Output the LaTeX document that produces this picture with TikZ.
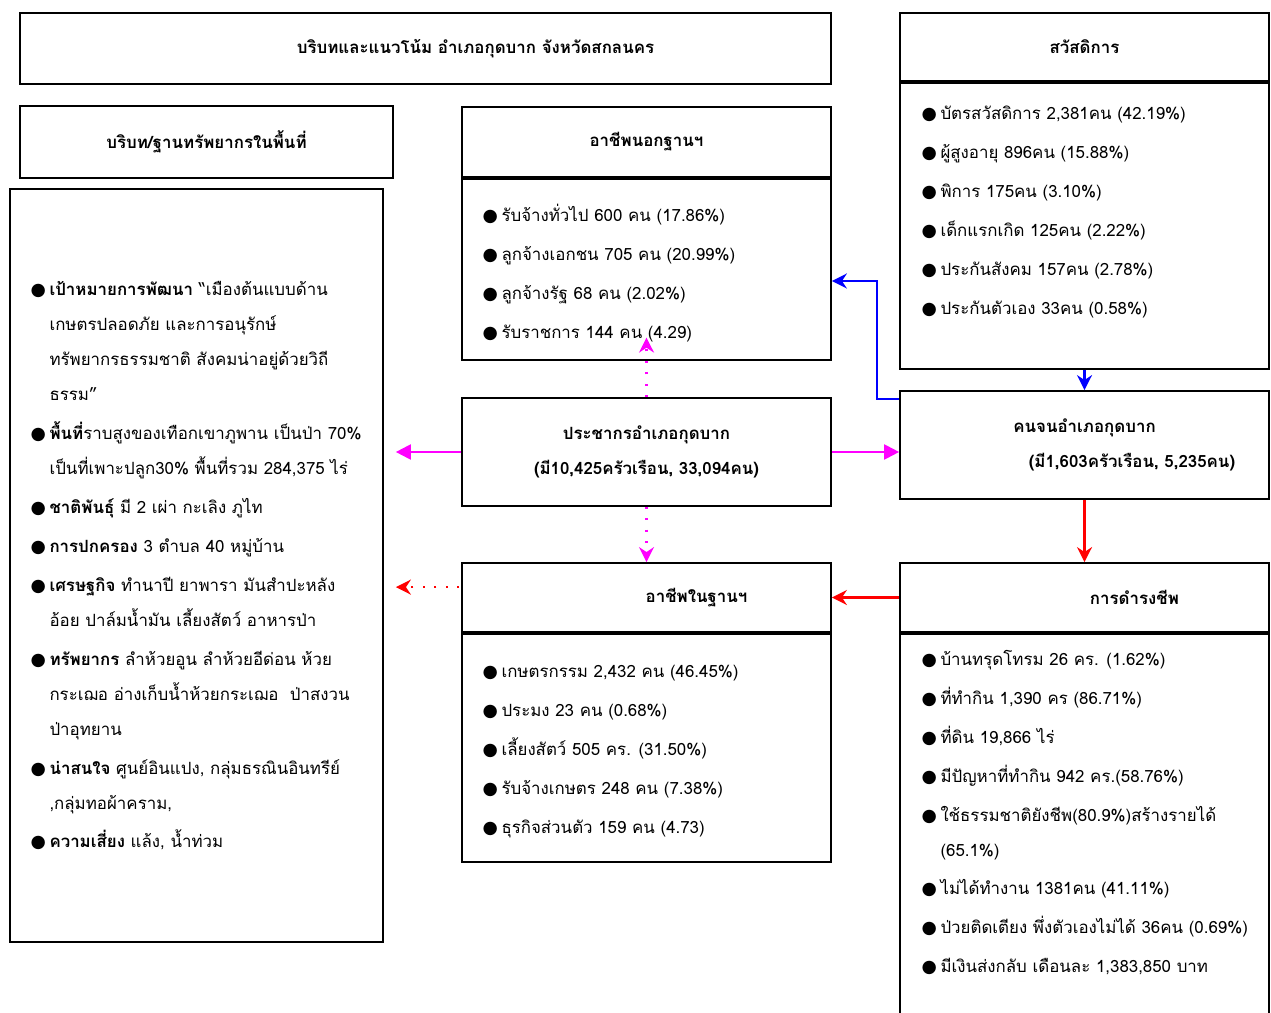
\documentclass[tikz,border=0pt]{standalone}
\usepackage{fontspec}
\setmainfont[Script=Thai]{Loma}
\newfontfamily\symfont{DejaVu Sans}
\usetikzlibrary{arrows.meta}
\definecolor{magline}{RGB}{255,0,255}
\definecolor{blueline}{RGB}{0,0,255}
\definecolor{redline}{RGB}{255,0,0}
\newcommand\bul{\strut\makebox[0.38cm][l]{\symfont\fontsize{10pt}{10pt}\selectfont ●}}
\newcommand\ind{\strut\hspace*{0.38cm}}
\begin{document}
\begin{tikzpicture}[x=0.02cm,y=-0.02cm,
  font=\fontsize{9.6pt}{19.9pt}\selectfont,
  box/.style={draw,line width=1pt,minimum width=7.38cm},
  headbox/.style={box,font=\fontsize{9.6pt}{19.9pt}\selectfont\bfseries},
  list/.style={anchor=north west,align=left,inner sep=0pt},
  link/.style={line width=1.2pt},
  dots/.style={dash pattern=on 1.2pt off 5.3pt}]
\useasboundingbox (0,0) rectangle (1271,1013);

% title and left column
\node[headbox,minimum width=16.22cm,minimum height=1.42cm] (title) at (425.5,48.5) {\hspace*{2cm}บริบทและแนวโน้ม อำเภอกุดบาก จังหวัดสกลนคร};
\node[headbox,minimum width=7.46cm,minimum height=1.44cm] (ctxhead) at (206.5,142) {บริบท/ฐานทรัพยากรในพื้นที่};
\node[box,minimum width=7.46cm,minimum height=15.06cm] (ctxbody) at (196.5,565.5) {};
\node[list] (ctxlist) at ([shift={(21,82.5)}]ctxbody.north west) {%
\bul\textbf{เป้าหมายการพัฒนา} “เมืองต้นแบบด้าน\\
\ind เกษตรปลอดภัย และการอนุรักษ์\\
\ind ทรัพยากรธรรมชาติ สังคมน่าอยู่ด้วยวิถี\\
\ind ธรรม”\\[0.08cm]
\bul\textbf{พื้นที่}ราบสูงของเทือกเขาภูพาน เป็นป่า 70\%\\
\ind เป็นที่เพาะปลูก30\% พื้นที่รวม 284,375 ไร่\\[0.08cm]
\bul\textbf{ชาติพันธุ์} มี 2 เผ่า กะเลิง ภูไท\\[0.08cm]
\bul\textbf{การปกครอง} 3 ตำบล 40 หมู่บ้าน\\[0.08cm]
\bul\textbf{เศรษฐกิจ} ทำนาปี ยาพารา มันสำปะหลัง\\
\ind อ้อย ปาล์มน้ำมัน เลี้ยงสัตว์ อาหารป่า\\[0.08cm]
\bul\textbf{ทรัพยากร} ลำห้วยอูน ลำห้วยอีด่อน ห้วย\\
\ind กระเฌอ อ่างเก็บน้ำห้วยกระเฌอ~ ป่าสงวน\\
\ind ป่าอุทยาน\\[0.08cm]
\bul\textbf{น่าสนใจ} ศูนย์อินแปง, กลุ่มธรณินอินทรีย์\\
\ind ,กลุ่มทอผ้าคราม,\\[0.08cm]
\bul\textbf{ความเสี่ยง} แล้ง, น้ำท่วม};

% middle column
\node[headbox,minimum height=1.4cm] (outhead) at (646.5,142) {อาชีพนอกฐานฯ};
\node[box,minimum height=3.62cm,anchor=north] (outbody) at (outhead.south) {};
\node[list] (outlist) at ([shift={(21,18.5)}]outbody.north west) {%
\bul รับจ้างทั่วไป 600 คน (17.86\%)\\[0.08cm]
\bul ลูกจ้างเอกชน 705 คน (20.99\%)\\[0.08cm]
\bul ลูกจ้างรัฐ 68 คน (2.02\%)\\[0.08cm]
\bul รับราชการ 144 คน (4.29)};

\node[headbox,minimum height=2.16cm,align=center] (pop) at (646.5,452) {ประชากรอำเภอกุดบาก\\(มี10,425ครัวเรือน, 33,094คน)};

\node[headbox,minimum height=1.38cm] (inhead) at (646.5,597.5) {\hspace*{2cm}อาชีพในฐานฯ};
\node[box,minimum height=4.56cm,anchor=north] (inbody) at (inhead.south) {};
\node[list] (inlist) at ([shift={(21,19.5)}]inbody.north west) {%
\bul เกษตรกรรม 2,432 คน (46.45\%)\\[0.08cm]
\bul ประมง 23 คน (0.68\%)\\[0.08cm]
\bul เลี้ยงสัตว์ 505 คร. (31.50\%)\\[0.08cm]
\bul รับจ้างเกษตร 248 คน (7.38\%)\\[0.08cm]
\bul ธุรกิจส่วนตัว 159 คน (4.73)};

% right column
\node[headbox,minimum height=1.36cm] (welhead) at (1084.5,47) {สวัสดิการ};
\node[box,minimum height=5.72cm,anchor=north] (welbody) at (welhead.south) {};
\node[list] (wellist) at ([shift={(22,12.5)}]welbody.north west) {%
\bul บัตรสวัสดิการ 2,381คน (42.19\%)\\[0.08cm]
\bul ผู้สูงอายุ 896คน (15.88\%)\\[0.08cm]
\bul พิการ 175คน (3.10\%)\\[0.08cm]
\bul เด็กแรกเกิด 125คน (2.22\%)\\[0.08cm]
\bul ประกันสังคม 157คน (2.78\%)\\[0.08cm]
\bul ประกันตัวเอง 33คน (0.58\%)};

\node[headbox,minimum height=2.16cm,align=center] (poor) at (1084.5,445) {คนจนอำเภอกุดบาก\\\hspace*{1.9cm}(มี1,603ครัวเรือน, 5,235คน)};

\node[headbox,minimum height=1.38cm] (livehead) at (1084.5,597.5) {\hspace*{2cm}การดำรงชีพ};
\node[box,minimum height=7.9cm,anchor=north] (livebody) at (livehead.south) {};
\node[list] (livelist) at ([shift={(22,7.5)}]livebody.north west) {%
\bul บ้านทรุดโทรม 26 คร. (1.62\%)\\[0.08cm]
\bul ที่ทำกิน 1,390 คร (86.71\%)\\[0.08cm]
\bul ที่ดิน 19,866 ไร่\\[0.08cm]
\bul มีปัญหาที่ทำกิน 942 คร.(58.76\%)\\[0.08cm]
\bul ใช้ธรรมชาติยังชีพ(80.9\%)สร้างรายได้\\
\ind (65.1\%)\\[0.08cm]
\bul ไม่ได้ทำงาน 1381คน (41.11\%)\\[0.08cm]
\bul ป่วยติดเตียง พึ่งตัวเองไม่ได้ 36คน (0.69\%)\\[0.08cm]
\bul มีเงินส่งกลับ เดือนละ 1,383,850 บาท};

% connectors
\coordinate (bturn) at (877,281);
\draw[link,blueline,-{Stealth[length=3mm,width=3mm]}] ([yshift=-0.18cm]poor.north west) -| (bturn) -- (bturn -| outbody.east);
\draw[link,blueline,-{Stealth[length=3mm,width=3mm]}] (welbody.south) -- (poor.north);
\draw[link,magline,-{Triangle[length=3mm,width=3mm]}] (pop.east) -- (pop.east -| poor.west);
\draw[link,magline,-{Triangle[length=3mm,width=3mm]}] (pop.west) -- ([xshift=0.24cm]pop.west -| ctxbody.east);
\draw[link,magline,dots,-{Stealth[length=3mm,width=3mm]}] (pop.north) -- ([yshift=0.46cm]outbody.south);
\draw[link,magline,dots,-{Stealth[length=3mm,width=3mm]}] (pop.south) -- (inhead.north);
\draw[link,redline,-{Stealth[length=3mm,width=3mm]}] (poor.south) -- (livehead.north);
\draw[link,redline,-{Stealth[length=3mm,width=3mm]}] (livehead.west) -- (inhead.east);
\draw[link,redline,dots,-{Stealth[length=3mm,width=3mm]}] ([shift={(-0.04cm,-0.5cm)}]inhead.north west) -- ([shift={(0.24cm,-0.5cm)}]inhead.north west -| ctxbody.east);
\end{tikzpicture}
\end{document}
